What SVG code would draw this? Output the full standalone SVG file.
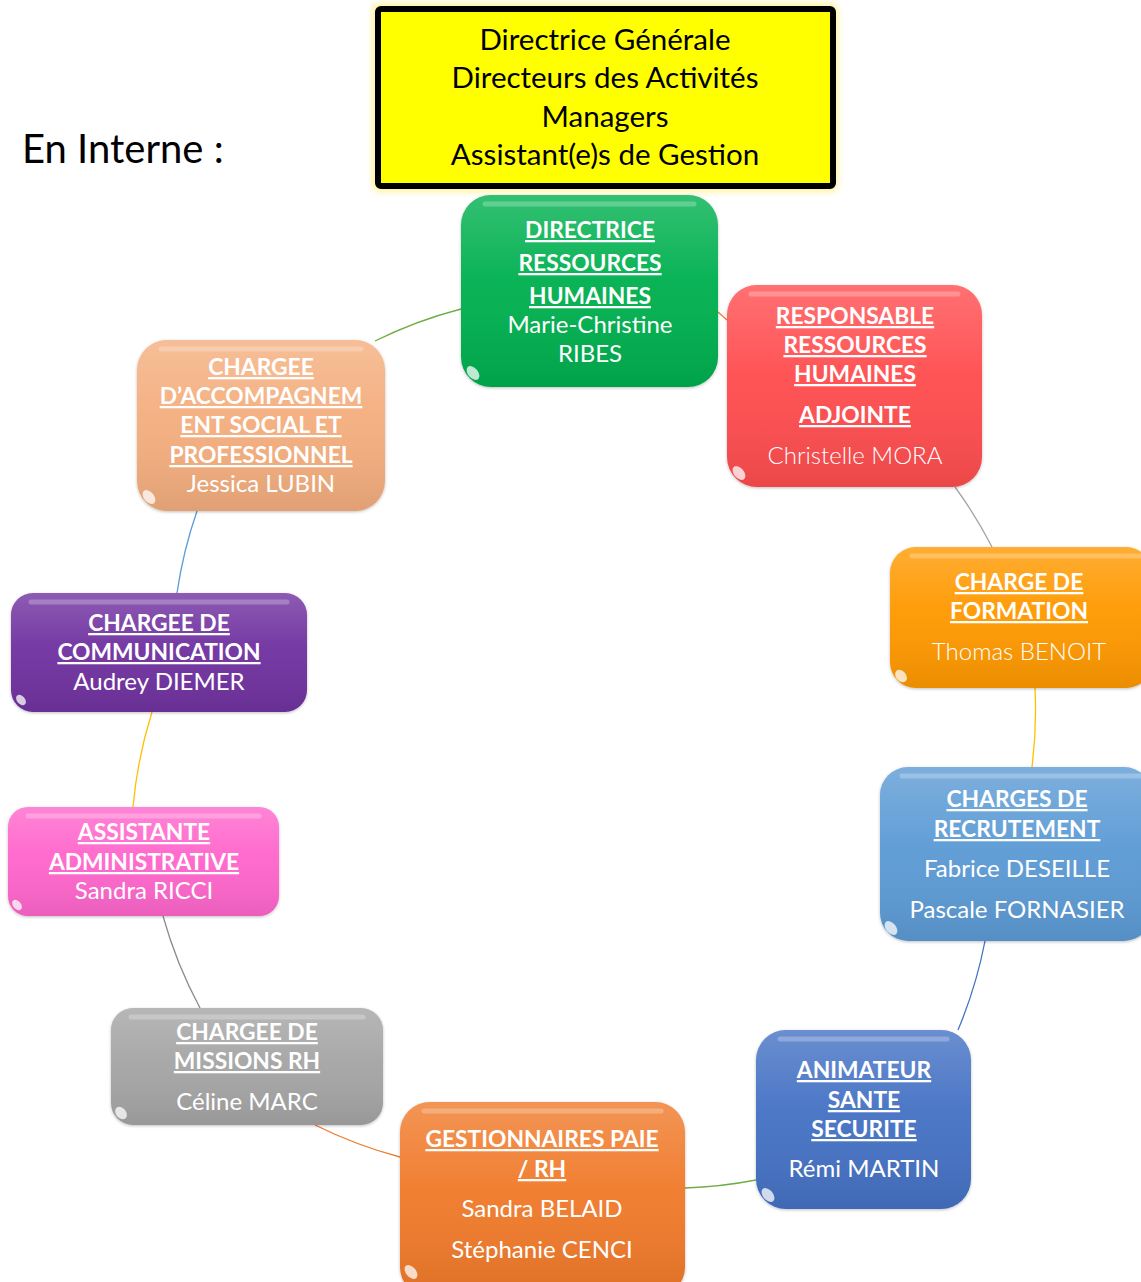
<svg xmlns="http://www.w3.org/2000/svg" width="1141" height="1282" viewBox="0 0 1141 1282">
<defs>
<style>
.t{font-family:Lato,"Open Sans","Liberation Sans",sans-serif;fill:#fff;text-anchor:middle}
.h{font-weight:bold;text-decoration:underline;font-size:22.8px}
.n{font-size:24px}
.l{font-weight:300}
.y{font-family:Lato,"Open Sans","Liberation Sans",sans-serif;fill:#000;text-anchor:middle;font-size:29.5px}
.c{fill:none;stroke-width:1.3}
.gl{fill:url(#gloss)}
.hl{stroke:#fff;stroke-opacity:.25;stroke-width:5;stroke-linecap:round;fill:none}
.bl{fill:#fff;fill-opacity:.75}
.box{filter:url(#sh)}
</style>
<linearGradient id="gloss" x1="0" y1="0" x2="0" y2="1">
<stop offset="0" stop-color="#fff" stop-opacity=".2"/>
<stop offset=".45" stop-color="#fff" stop-opacity=".04"/>
<stop offset="1" stop-color="#000" stop-opacity=".08"/>
</linearGradient>
<filter id="sh" x="-10%" y="-10%" width="120%" height="120%">
<feDropShadow dx="0" dy="1" stdDeviation="1.5" flood-color="#000" flood-opacity=".25"/>
</filter>
<filter id="glow" x="-5%" y="-10%" width="110%" height="120%">
<feGaussianBlur stdDeviation="3"/>
</filter>
</defs>
<rect width="1141" height="1282" fill="#fff"/>

<text x="22" y="163" style="font-family:Lato,'Open Sans','Liberation Sans',sans-serif;font-size:40px;fill:#000">En Interne :</text>

<g id="header">
<rect x="372" y="3" width="466" height="189" rx="8" fill="#FFF3A0" filter="url(#glow)"/>
<rect x="378" y="9" width="455" height="177" rx="3" fill="#FFFF00" stroke="#000" stroke-width="6"/>
<text class="y" x="605" y="50">Directrice Générale</text>
<text class="y" x="605" y="88">Directeurs des Activités</text>
<text class="y" x="605" y="127">Managers</text>
<text class="y" x="605" y="165">Assistant(e)s de Gestion</text>
</g>

<g id="connectors">
<path class="c" stroke="#ED7D31" d="M718,312 L727,320"/>
<path class="c" stroke="#A5A5A5" d="M955,487 A450 450 0 0 1 992,547"/>
<path class="c" stroke="#FFC000" d="M1035,688 A450 450 0 0 1 1032,767"/>
<path class="c" stroke="#4472C4" d="M985,941 A450 450 0 0 1 958,1030"/>
<path class="c" stroke="#70AD47" d="M756,1180 A450 450 0 0 1 685,1188"/>
<path class="c" stroke="#ED7D31" d="M400,1157 A450 450 0 0 1 315,1125"/>
<path class="c" stroke="#8C8C8C" d="M200,1008 A450 450 0 0 1 163,916"/>
<path class="c" stroke="#FFC000" d="M133,807 A450 450 0 0 1 152,712"/>
<path class="c" stroke="#5B9BD5" d="M177,593 A450 450 0 0 1 197,511"/>
<path class="c" stroke="#70AD47" d="M375,341 A450 450 0 0 1 461,309"/>
</g>

<g id="n-drh">
<rect class="box" x="461" y="195" width="257" height="192" rx="30" fill="#00B050"/>
<rect class="gl" x="461" y="195" width="257" height="192" rx="30"/>
<path class="hl" d="M485,204 H694"/>
<ellipse class="bl" cx="473" cy="373" rx="5" ry="8" transform="rotate(-40 473 373)"/>
<text class="t h" x="590" y="238">DIRECTRICE</text>
<text class="t h" x="590" y="271">RESSOURCES</text>
<text class="t h" x="590" y="304">HUMAINES</text>
<text class="t n" x="590" y="333">Marie-Christine</text>
<text class="t n" x="590" y="362">RIBES</text>
</g>

<g id="n-rrh">
<rect class="box" x="727" y="285" width="255" height="202" rx="30" fill="#FF4D4F"/>
<rect class="gl" x="727" y="285" width="255" height="202" rx="30"/>
<path class="hl" d="M751,294 H958"/>
<ellipse class="bl" cx="739" cy="473" rx="5" ry="8" transform="rotate(-40 739 473)"/>
<text class="t h" x="855" y="324">RESPONSABLE</text>
<text class="t h" x="855" y="353">RESSOURCES</text>
<text class="t h" x="855" y="382">HUMAINES</text>
<text class="t h" x="855" y="423">ADJOINTE</text>
<text class="t n l" x="855" y="464">Christelle MORA</text>
</g>

<g id="n-formation">
<rect class="box" x="890" y="547" width="262" height="141" rx="26" fill="#FF9900"/>
<rect class="gl" x="890" y="547" width="262" height="141" rx="26"/>
<path class="hl" d="M912,556 H1141"/>
<ellipse class="bl" cx="901" cy="676" rx="5" ry="7" transform="rotate(-40 901 676)"/>
<text class="t h" x="1019" y="590">CHARGE DE</text>
<text class="t h" x="1019" y="619">FORMATION</text>
<text class="t n l" x="1019" y="660">Thomas BENOIT</text>
</g>

<g id="n-recrutement">
<rect class="box" x="880" y="767" width="272" height="174" rx="28" fill="#5B9BD5"/>
<rect class="gl" x="880" y="767" width="272" height="174" rx="28"/>
<path class="hl" d="M902,776 H1141"/>
<ellipse class="bl" cx="891" cy="928" rx="5" ry="8" transform="rotate(-40 891 928)"/>
<text class="t h" x="1017" y="807">CHARGES DE</text>
<text class="t h" x="1017" y="837">RECRUTEMENT</text>
<text class="t n" x="1017" y="877">Fabrice DESEILLE</text>
<text class="t n" x="1017" y="918">Pascale FORNASIER</text>
</g>

<g id="n-animateur">
<rect class="box" x="756" y="1030" width="215" height="179" rx="30" fill="#4472C4"/>
<rect class="gl" x="756" y="1030" width="215" height="179" rx="30"/>
<path class="hl" d="M780,1039 H947"/>
<ellipse class="bl" cx="768" cy="1195" rx="5" ry="8" transform="rotate(-40 768 1195)"/>
<text class="t h" x="864" y="1078">ANIMATEUR</text>
<text class="t h" x="864" y="1108">SANTE</text>
<text class="t h" x="864" y="1137">SECURITE</text>
<text class="t n" x="864" y="1177">Rémi MARTIN</text>
</g>

<g id="n-paie">
<rect class="box" x="400" y="1102" width="285" height="195" rx="30" fill="#F07A2C"/>
<rect class="gl" x="400" y="1102" width="285" height="195" rx="30"/>
<path class="hl" d="M424,1111 H661"/>
<ellipse class="bl" cx="411" cy="1272" rx="5" ry="8" transform="rotate(-40 411 1272)"/>
<text class="t h" x="542" y="1147">GESTIONNAIRES PAIE</text>
<text class="t h" x="542" y="1177">/ RH</text>
<text class="t n" x="542" y="1217">Sandra BELAID</text>
<text class="t n" x="542" y="1258">Stéphanie CENCI</text>
</g>

<g id="n-missions">
<rect class="box" x="111" y="1008" width="272" height="117" rx="22" fill="#A5A5A5"/>
<rect class="gl" x="111" y="1008" width="272" height="117" rx="22"/>
<path class="hl" d="M131,1017 H363"/>
<ellipse class="bl" cx="121" cy="1113" rx="5" ry="7" transform="rotate(-40 121 1113)"/>
<text class="t h" x="247" y="1040">CHARGEE DE</text>
<text class="t h" x="247" y="1069">MISSIONS RH</text>
<text class="t n" x="247" y="1110">Céline MARC</text>
</g>

<g id="n-assistante">
<rect class="box" x="8" y="807" width="271" height="109" rx="20" fill="#FF66CC"/>
<rect class="gl" x="8" y="807" width="271" height="109" rx="20"/>
<path class="hl" d="M28,816 H259"/>
<ellipse class="bl" cx="17" cy="905" rx="4" ry="6" transform="rotate(-40 17 905)"/>
<text class="t h" x="144" y="840">ASSISTANTE</text>
<text class="t h" x="144" y="870">ADMINISTRATIVE</text>
<text class="t n" x="144" y="899">Sandra RICCI</text>
</g>

<g id="n-communication">
<rect class="box" x="11" y="593" width="296" height="119" rx="22" fill="#7030A0"/>
<rect class="gl" x="11" y="593" width="296" height="119" rx="22"/>
<path class="hl" d="M31,602 H287"/>
<ellipse class="bl" cx="21" cy="700" rx="4" ry="6" transform="rotate(-40 21 700)"/>
<text class="t h" x="159" y="631">CHARGEE DE</text>
<text class="t h" x="159" y="660">COMMUNICATION</text>
<text class="t n" x="159" y="690">Audrey DIEMER</text>
</g>

<g id="n-accompagnement">
<rect class="box" x="137" y="340" width="248" height="171" rx="30" fill="#F4AE7E"/>
<rect class="gl" x="137" y="340" width="248" height="171" rx="30"/>
<path class="hl" d="M161,349 H361"/>
<ellipse class="bl" cx="149" cy="497" rx="5" ry="8" transform="rotate(-40 149 497)"/>
<text class="t h" x="261" y="375">CHARGEE</text>
<text class="t h" x="261" y="404">D’ACCOMPAGNEM</text>
<text class="t h" x="261" y="433">ENT SOCIAL ET</text>
<text class="t h" x="261" y="463">PROFESSIONNEL</text>
<text class="t n" x="261" y="492">Jessica LUBIN</text>
</g>
</svg>
